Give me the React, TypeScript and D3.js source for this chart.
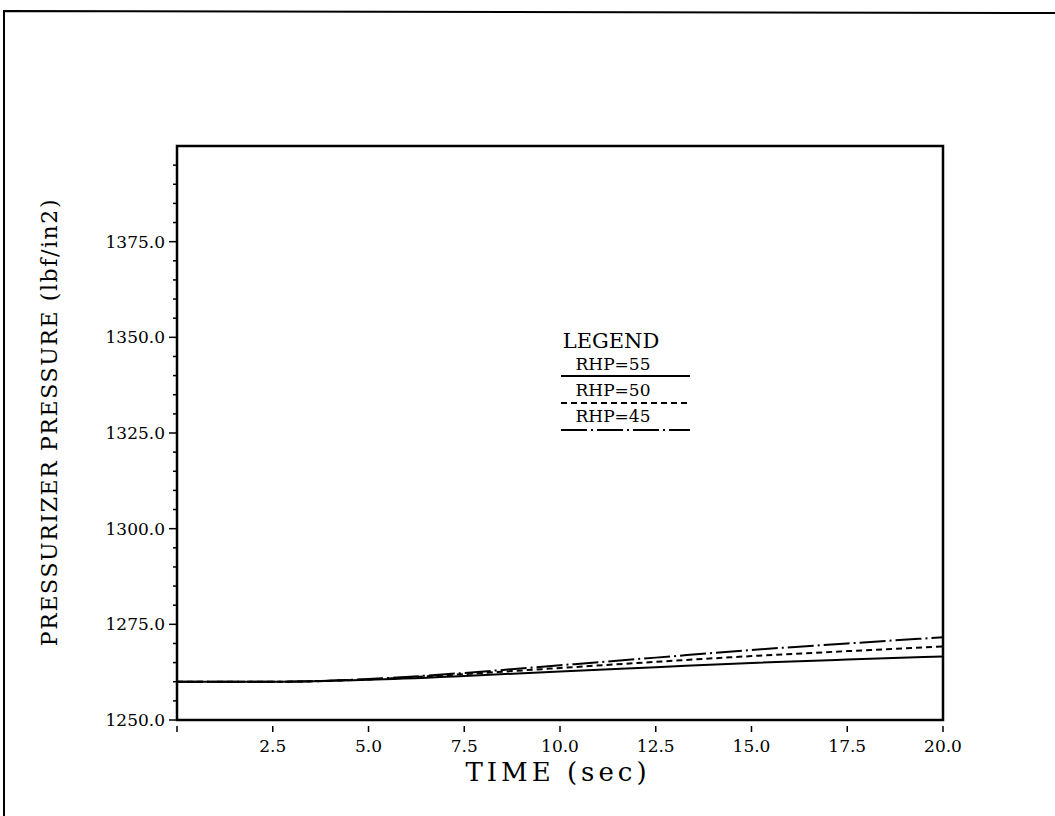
import React, { useRef, useEffect } from 'react';
import * as d3 from 'd3';

const times = [0, 2.5, 5, 7.5, 10, 12.5, 15, 17.5, 20];
const rhp55 = [1260, 1260, 1260.5, 1261.5, 1262.7, 1263.8, 1264.9, 1265.8, 1266.6];
const rhp50 = [1260, 1260, 1260.6, 1262, 1263.6, 1265.2, 1266.7, 1268, 1269.2];
const rhp45 = [1260, 1260, 1260.7, 1262.3, 1264.3, 1266.3, 1268.3, 1270, 1271.6];
const seriesNames = ['RHP=55', 'RHP=50', 'RHP=45'];
const yTicks = [1250, 1275, 1300, 1325, 1350, 1375];
const xTicks = [2.5, 5, 7.5, 10, 12.5, 15, 17.5, 20];

const W = 1055;
const H = 816;
const FONT = '"DejaVu Serif", "Liberation Serif", serif';

const App = () => {
  const svgRef = useRef(null);

  useEffect(() => {
    const svg = d3.select(svgRef.current);
    svg.selectAll('*').remove();

    const x = d3.scaleLinear().domain([0, 20]).range([177, 943]);
    const y = d3.scaleLinear().domain([1250, 1400]).range([720, 146]);

    // page border (scanned sheet edge)
    svg.append('path')
      .attr('d', 'M4,816 L4,11 L1055,13')
      .attr('fill', 'none')
      .attr('stroke', '#000')
      .attr('stroke-width', 2);

    // plot frame
    svg.append('rect')
      .attr('x', x(0))
      .attr('y', y(1400))
      .attr('width', x(20) - x(0))
      .attr('height', y(1250) - y(1400))
      .attr('fill', 'none')
      .attr('stroke', '#000')
      .attr('stroke-width', 2.5);

    // y minor + major ticks
    const minor = d3.range(1255, 1400, 5).filter(v => v % 25 !== 0);
    svg.append('g').selectAll('line').data(minor).enter().append('line')
      .attr('x1', x(0) - 4).attr('x2', x(0))
      .attr('y1', d => y(d)).attr('y2', d => y(d))
      .attr('stroke', '#000').attr('stroke-width', 1.5);

    svg.append('g').selectAll('line').data(yTicks).enter().append('line')
      .attr('x1', x(0) - 8).attr('x2', x(0))
      .attr('y1', d => y(d)).attr('y2', d => y(d))
      .attr('stroke', '#000').attr('stroke-width', 1.5);

    svg.append('g').selectAll('text').data(yTicks).enter().append('text')
      .attr('x', x(0) - 12)
      .attr('y', d => y(d) + 6)
      .attr('text-anchor', 'end')
      .attr('font-family', FONT)
      .attr('font-size', 17)
      .text(d => d.toFixed(1));

    // x ticks
    svg.append('g').selectAll('line').data([0, ...xTicks]).enter().append('line')
      .attr('x1', d => x(d)).attr('x2', d => x(d))
      .attr('y1', y(1250) + 6).attr('y2', y(1250) + 12)
      .attr('stroke', '#000').attr('stroke-width', 1.5);

    svg.append('g').selectAll('text').data(xTicks).enter().append('text')
      .attr('x', d => x(d))
      .attr('y', 752)
      .attr('text-anchor', 'middle')
      .attr('font-family', FONT)
      .attr('font-size', 17)
      .text(d => d.toFixed(1));

    // axis titles
    svg.append('text')
      .attr('x', 558)
      .attr('y', 781)
      .attr('text-anchor', 'middle')
      .attr('font-family', FONT)
      .attr('font-size', 26)
      .attr('letter-spacing', 4)
      .text('TIME (sec)');

    svg.append('text')
      .attr('transform', 'translate(57,422) rotate(-90)')
      .attr('text-anchor', 'middle')
      .attr('font-family', FONT)
      .attr('font-size', 22)
      .attr('letter-spacing', 1.6)
      .text('PRESSURIZER PRESSURE (lbf/in2)');

    // curves
    const styles = [
      { data: rhp55, dash: null },
      { data: rhp50, dash: '6,4' },
      { data: rhp45, dash: '26,4,2,4' },
    ];
    const line = d3.line<number>()
      .x((d, i) => x(times[i]))
      .y(d => y(d))
      .curve(d3.curveMonotoneX);

    styles.forEach(s => {
      svg.append('path')
        .datum(s.data)
        .attr('fill', 'none')
        .attr('stroke', '#000')
        .attr('stroke-width', 2)
        .attr('stroke-dasharray', s.dash)
        .attr('d', line);
    });

    // legend
    const lg = svg.append('g');
    lg.append('text')
      .attr('x', 611).attr('y', 348)
      .attr('text-anchor', 'middle')
      .attr('font-family', FONT)
      .attr('font-size', 21)
      .text('LEGEND');
    const textY = [370, 396, 422];
    const lineY = [376, 403, 430];
    seriesNames.forEach((name, i) => {
      lg.append('text')
        .attr('x', 613).attr('y', textY[i])
        .attr('text-anchor', 'middle')
        .attr('font-family', FONT)
        .attr('font-size', 17)
        .text(name);
      lg.append('line')
        .attr('x1', 561).attr('x2', 690)
        .attr('y1', lineY[i]).attr('y2', lineY[i])
        .attr('stroke', '#000')
        .attr('stroke-width', 2)
        .attr('stroke-dasharray', styles[i].dash);
    });
  }, []);

  return (
    <svg
      ref={svgRef}
      width={W}
      height={H}
      style={{ position: 'absolute', left: 0, top: 0, background: '#fff' }}
    />
  );
};

export default App;
